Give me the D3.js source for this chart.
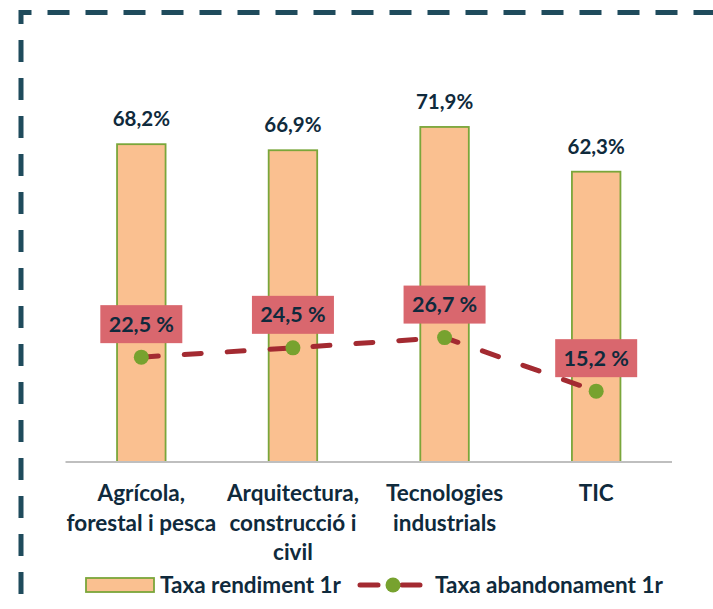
<!DOCTYPE html>
<html>
<head>
<meta charset="utf-8">
<script src="https://cdn.jsdelivr.net/npm/d3@7"></script>
<style>
  body { margin: 0; background: #fff; }
  svg { display: block; font-family: Lato, "Open Sans", sans-serif; font-weight: bold; }
</style>
</head>
<body>
<svg id="chart" width="713" height="609"></svg>
<script>
// data
var categories = [
  ["Agrícola,", "forestal i pesca"],
  ["Arquitectura,", "construcció i", "civil"],
  ["Tecnologies", "industrials"],
  ["TIC"]
];
var rendiment = [68.2, 66.9, 71.9, 62.3];
var abandonament = [22.5, 24.5, 26.7, 15.2];
var legendLabels = ["Taxa rendiment 1r", "Taxa abandonament 1r"];

var textColor = "#0f2a3c",
    barFill = "#fac090",
    barStroke = "#7aa63a",
    lineColor = "#a32a31",
    dotColor = "#77a22f",
    boxColor = "#d9676e",
    frameColor = "#1f4b5c";

var svg = d3.select("#chart");

// dashed frame (only top and left show inside the window)
svg.append("path")
  .attr("d", "M21,720 L21,12.5 L760,12.5")
  .attr("fill", "none")
  .attr("stroke", frameColor)
  .attr("stroke-width", 5)
  .attr("stroke-dasharray", "22,16")
  .attr("stroke-dashoffset", (38 - ((720 - 12.5 - 11.5) % 38)) % 38);

var x = d3.scaleBand()
  .domain(d3.range(categories.length))
  .range([65.5, 672])
  .paddingInner(0.68)
  .paddingOuter(0.34);

var y = d3.scaleLinear()
  .domain([0, 100])
  .range([462, -4]);

var cx = function (i) { return x(i) + x.bandwidth() / 2; };

// bars
svg.selectAll(".bar")
  .data(rendiment)
  .enter().append("rect")
  .attr("class", "bar")
  .attr("x", function (d, i) { return x(i); })
  .attr("y", function (d) { return y(d); })
  .attr("width", x.bandwidth())
  .attr("height", function (d) { return y(0) - y(d); })
  .attr("fill", barFill)
  .attr("stroke", barStroke)
  .attr("stroke-width", 1.8);

// bar value labels
svg.selectAll(".barLabel")
  .data(rendiment)
  .enter().append("text")
  .attr("class", "barLabel")
  .attr("x", function (d, i) { return cx(i); })
  .attr("y", function (d) { return y(d) - 18; })
  .attr("text-anchor", "middle")
  .attr("font-size", 20.5)
  .attr("fill", textColor)
  .text(function (d) { return d.toFixed(1).replace(".", ",") + "%"; });

// baseline axis
svg.append("line")
  .attr("x1", 65.5).attr("x2", 672)
  .attr("y1", y(0)).attr("y2", y(0))
  .attr("stroke", "#bfbfbf")
  .attr("stroke-width", 2);

// category labels
var cat = svg.selectAll(".cat")
  .data(categories)
  .enter().append("text")
  .attr("class", "cat")
  .attr("text-anchor", "middle")
  .attr("font-size", 22.5)
  .attr("fill", textColor);
cat.selectAll("tspan")
  .data(function (d, i) { return d.map(function (t) { return { t: t, i: i }; }); })
  .enter().append("tspan")
  .attr("x", function (d) { return cx(d.i); })
  .attr("y", function (d, j) { return 501 + j * 29.5; })
  .text(function (d) { return d.t; });

// dropout line
var line = d3.line()
  .x(function (d, i) { return cx(i); })
  .y(function (d) { return y(d); });

svg.append("path")
  .datum(abandonament)
  .attr("d", line)
  .attr("fill", "none")
  .attr("stroke", lineColor)
  .attr("stroke-width", 5)
  .attr("stroke-linecap", "round")
  .attr("stroke-dasharray", "17,26");

svg.selectAll(".dot")
  .data(abandonament)
  .enter().append("circle")
  .attr("class", "dot")
  .attr("cx", function (d, i) { return cx(i); })
  .attr("cy", function (d) { return y(d); })
  .attr("r", 7.5)
  .attr("fill", dotColor);

// dropout labels in boxes
var lab = svg.selectAll(".lineLabel")
  .data(abandonament)
  .enter().append("g")
  .attr("class", "lineLabel")
  .attr("transform", function (d, i) {
    return "translate(" + cx(i) + "," + (y(d) - 14) + ")";
  });
lab.append("rect")
  .attr("x", -41).attr("y", -38)
  .attr("width", 82).attr("height", 38)
  .attr("fill", boxColor);
lab.append("text")
  .attr("y", -11.5)
  .attr("text-anchor", "middle")
  .attr("font-size", 21.5)
  .attr("fill", textColor)
  .text(function (d) { return d.toFixed(1).replace(".", ",") + " %"; });

// legend
var legY = 585;
svg.append("rect")
  .attr("x", 86).attr("y", legY - 7)
  .attr("width", 68).attr("height", 14)
  .attr("fill", barFill)
  .attr("stroke", barStroke)
  .attr("stroke-width", 1.8);
svg.append("text")
  .attr("x", 160).attr("y", legY + 8)
  .attr("font-size", 22.5)
  .attr("fill", textColor)
  .text(legendLabels[0]);
svg.append("line")
  .attr("x1", 360).attr("x2", 420)
  .attr("y1", legY).attr("y2", legY)
  .attr("stroke", lineColor)
  .attr("stroke-width", 5)
  .attr("stroke-linecap", "round")
  .attr("stroke-dasharray", "18,24");
svg.append("circle")
  .attr("cx", 393).attr("cy", legY)
  .attr("r", 7.5)
  .attr("fill", dotColor);
svg.append("text")
  .attr("x", 435).attr("y", legY + 8)
  .attr("font-size", 22.5)
  .attr("fill", textColor)
  .text(legendLabels[1]);
</script>
</body>
</html>
